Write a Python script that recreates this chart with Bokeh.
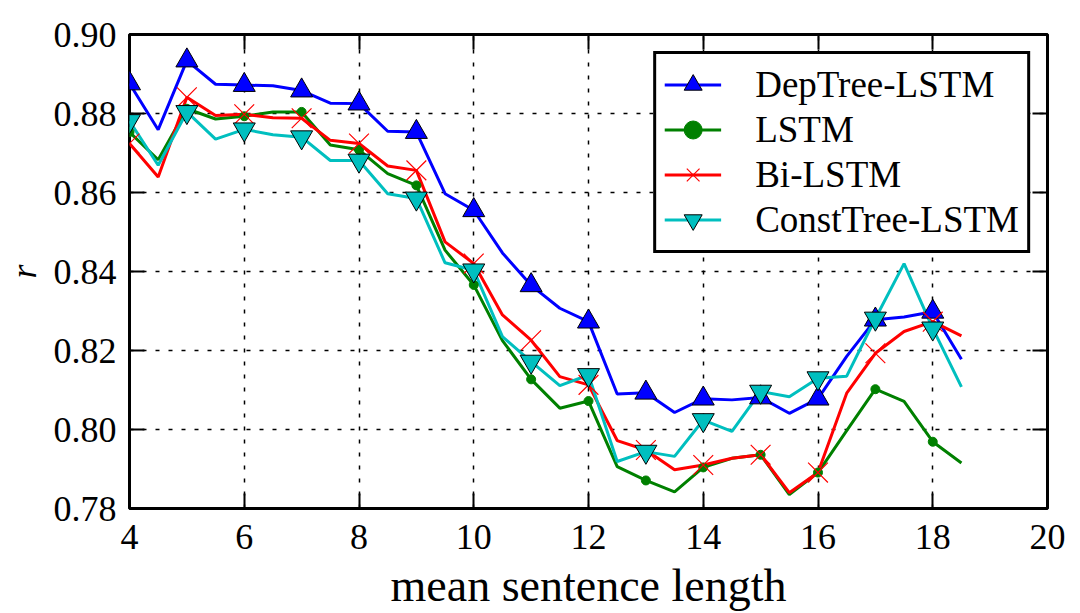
from bokeh.plotting import figure
from bokeh.models import (Range1d, LinearAxis, FixedTicker, Legend, LegendItem,
                          PrintfTickFormatter, CustomLabelingPolicy)
from bokeh.embed import file_html
from bokeh.resources import INLINE

# ---- data ----
x = [4.0, 4.5, 5.0, 5.5, 6.0, 6.5, 7.0, 7.5, 8.0, 8.5, 9.0, 9.5, 10.0, 10.5, 11.0,
     11.5, 12.0, 12.5, 13.0, 13.5, 14.0, 14.5, 15.0, 15.5, 16.0, 16.5, 17.0, 17.5, 18.0, 18.5]

deptree = [0.8876, 0.8759, 0.8934, 0.8874, 0.8872, 0.8870, 0.8858, 0.8826, 0.8825, 0.8755,
           0.8753, 0.8597, 0.8555, 0.8447, 0.8365, 0.8307, 0.8273, 0.8090, 0.8093, 0.8043,
           0.8078, 0.8075, 0.8081, 0.8041, 0.8078, 0.8185, 0.8278, 0.8285, 0.8298, 0.8178]

lstm = [0.8753, 0.8683, 0.8812, 0.8786, 0.8793, 0.8804, 0.8804, 0.8720, 0.8708, 0.8648,
        0.8618, 0.8454, 0.8366, 0.8225, 0.8127, 0.8054, 0.8072, 0.7906, 0.7871, 0.7842,
        0.7904, 0.7927, 0.7936, 0.7835, 0.7891, 0.7997, 0.8102, 0.8071, 0.7969, 0.7915]

bilstm = [0.8724, 0.8639, 0.8841, 0.8795, 0.8798, 0.8789, 0.8788, 0.8732, 0.8724, 0.8667,
          0.8656, 0.8475, 0.8420, 0.8290, 0.8226, 0.8134, 0.8113, 0.7972, 0.7948, 0.7898,
          0.7910, 0.7927, 0.7936, 0.7840, 0.7891, 0.8092, 0.8193, 0.8248, 0.8273, 0.8237]

consttree = [0.8781, 0.8669, 0.8804, 0.8735, 0.8760, 0.8746, 0.8740, 0.8681, 0.8681, 0.8597,
             0.8585, 0.8422, 0.8403, 0.8235, 0.8172, 0.8111, 0.8138, 0.7919, 0.7944, 0.7932,
             0.8024, 0.7995, 0.8096, 0.8083, 0.8130, 0.8135, 0.8281, 0.8420, 0.8256, 0.8108]

series_names = ["DepTree-LSTM", "LSTM", "Bi-LSTM", "ConstTree-LSTM"]
x_ticks = [4, 6, 8, 10, 12, 14, 16, 18, 20]
y_ticks = [0.78, 0.80, 0.82, 0.84, 0.86, 0.88, 0.90]
x_title = "mean sentence length"
y_title = "r"

FONT = "Liberation Serif"

p = figure(width=1072, height=613, x_range=Range1d(4, 20), y_range=Range1d(0.78, 0.90),
           output_backend="svg", toolbar_location=None,
           min_border_left=128, min_border_right=25, min_border_top=34, min_border_bottom=104,
           background_fill_color="white", border_fill_color="white")

p.outline_line_color = "black"
p.outline_line_width = 3
p.outline_line_alpha = 1

# main axes
for ax in (p.xaxis[0], p.yaxis[0]):
    ax.axis_line_color = None
    ax.major_tick_in = 15
    ax.major_tick_out = 0
    ax.minor_tick_in = 0
    ax.minor_tick_out = 0
    ax.major_tick_line_width = 2
    ax.major_tick_line_color = "black"
    ax.major_label_text_font = FONT
    ax.major_label_text_font_size = "36px"
    ax.major_label_text_color = "black"
    ax.axis_label_text_font = FONT
    ax.axis_label_text_color = "black"

p.xaxis[0].ticker = FixedTicker(ticks=x_ticks)
p.yaxis[0].ticker = FixedTicker(ticks=y_ticks)
p.yaxis[0].formatter = PrintfTickFormatter(format="%.2f")
p.xaxis[0].major_label_standoff = 16
p.yaxis[0].major_label_standoff = 13
p.xaxis[0].axis_label = x_title
p.xaxis[0].axis_label_text_font_size = "46px"
p.xaxis[0].axis_label_text_font_style = "normal"
p.xaxis[0].axis_label_standoff = 8
p.yaxis[0].axis_label = y_title
p.yaxis[0].axis_label_text_font_size = "36px"
p.yaxis[0].axis_label_text_font_style = "italic"
p.yaxis[0].axis_label_standoff = 7

# mirrored ticks on top and right (labels hidden)
top = LinearAxis(ticker=FixedTicker(ticks=x_ticks), major_label_text_font_size="1px",
                 major_label_policy=CustomLabelingPolicy(code="for (const i of indices) { if (i < 0) yield i }"),
                 major_label_standoff=0, major_tick_in=15, major_tick_out=0,
                 minor_tick_in=0, minor_tick_out=0, axis_line_color=None,
                 major_tick_line_width=2)
right = LinearAxis(ticker=FixedTicker(ticks=y_ticks), major_label_text_font_size="1px",
                   major_label_policy=CustomLabelingPolicy(code="for (const i of indices) { if (i < 0) yield i }"),
                   major_label_standoff=0, major_tick_in=15, major_tick_out=0,
                   minor_tick_in=0, minor_tick_out=0, axis_line_color=None,
                   major_tick_line_width=2)
p.add_layout(top, "above")
p.add_layout(right, "right")

# grid
for g, t in ((p.xgrid[0], x_ticks), (p.ygrid[0], y_ticks)):
    g.ticker = FixedTicker(ticks=t)
    g.grid_line_color = "black"
    g.grid_line_dash = "4 9"
    g.grid_line_width = 1.5

LW = 3
mx = x[::2]

r1 = p.line(x, deptree, line_color="#0000FF", line_width=LW)
r2 = p.line(x, lstm, line_color="#008000", line_width=LW)
r3 = p.line(x, bilstm, line_color="#FF0000", line_width=LW)
r4 = p.line(x, consttree, line_color="#00BFBF", line_width=LW)

m1 = p.scatter(mx, deptree[::2], marker="triangle", size=22, fill_color="#0000FF",
               line_color="black", line_width=1)
m2 = p.scatter(mx, lstm[::2], marker="circle", size=9, fill_color="#008000",
               line_color="#008000", line_width=1)
m3 = p.scatter(mx, bilstm[::2], marker="x", size=28, line_color="#FF0000", line_width=1.2)
m4 = p.scatter(mx, consttree[::2], marker="inverted_triangle", size=22, fill_color="#00BFBF",
               line_color="black", line_width=1)

items = [LegendItem(label=series_names[0], renderers=[r1, m1]),
         LegendItem(label=series_names[1], renderers=[r2, m2]),
         LegendItem(label=series_names[2], renderers=[r3, m3]),
         LegendItem(label=series_names[3], renderers=[r4, m4])]

legend = Legend(items=items, location="top_right")
legend.margin = 17
legend.padding = 8
legend.spacing = 0
legend.glyph_width = 57
legend.glyph_height = 45
legend.label_height = 45
legend.label_standoff = 34
legend.label_text_font = FONT
legend.label_text_font_size = "37px"
legend.label_text_color = "black"
legend.border_line_color = "black"
legend.border_line_alpha = 1
legend.border_line_width = 3
legend.background_fill_color = "white"
legend.background_fill_alpha = 1
p.add_layout(legend, "center")

open("out.html", "w").write(file_html(p, INLINE))
